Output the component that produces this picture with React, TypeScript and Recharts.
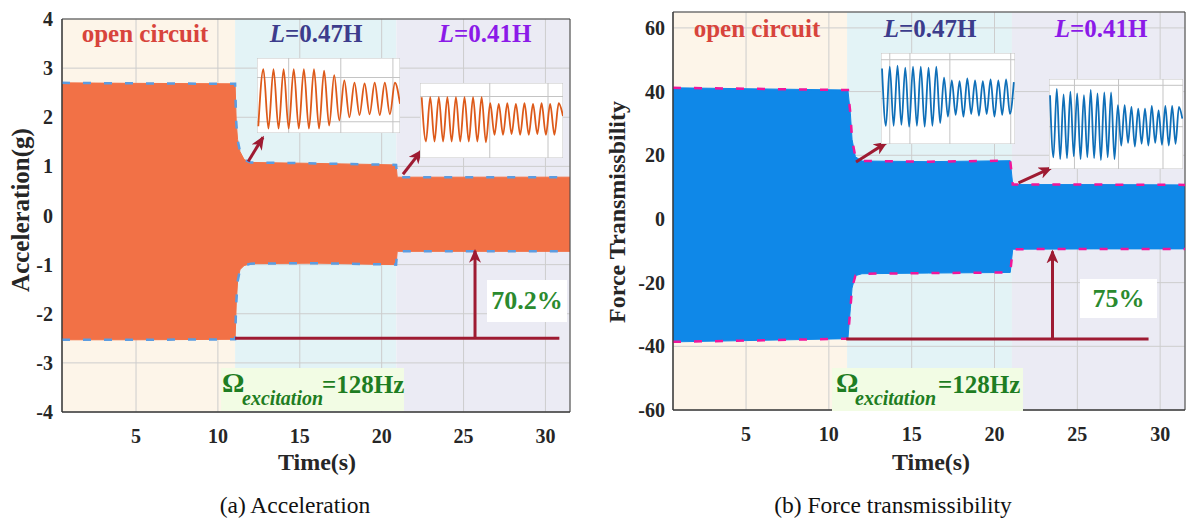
import React from 'react';
import {
  ComposedChart,
  LineChart,
  Area,
  Line,
  XAxis,
  YAxis,
  CartesianGrid,
  ReferenceArea,
  ReferenceLine,
} from 'recharts';

const SERIF = '"Liberation Serif", "Times New Roman", serif';
const ARROW = '#9E1B32';
const GREEN = '#2B8A2E';

const timeTicks = [5, 10, 15, 20, 25, 30];
const regionFills = ['#FDF5E9', '#E3F3F6', '#EBEBF4'];

// (a) acceleration envelope
const accTime = [0.48, 5, 11.05, 11.12, 11.2, 11.35, 11.6, 12, 16, 20.88, 20.95, 26, 31.5];
const accTop = [2.7, 2.69, 2.68, 1.9, 1.55, 1.3, 1.14, 1.08, 1.06, 1.03, 0.78, 0.78, 0.78];
const accBottom = [-2.53, -2.53, -2.52, -1.8, -1.35, -1.1, -1.02, -0.98, -0.97, -1.0, -0.73, -0.73, -0.73];
const accTicks = [-4, -3, -2, -1, 0, 1, 2, 3, 4];
const accBounds = [0.48, 11.05, 20.9, 31.5];
const accArrows = [
  [11.85, 1.1, 12.75, 1.59],
  [21.3, 0.84, 22.4, 1.31],
  [25.7, -2.5, 25.7, -0.72],
];
const accBase = [11.05, 30.85, -2.5];

// (b) force transmissibility envelope
const forceTime = [0.59, 5, 11.15, 11.3, 11.4, 11.6, 12, 16, 20.95, 21.1, 26, 31.5];
const forceTop = [41.2, 40.9, 40.5, 33, 25, 19.5, 18.2, 18.0, 18.3, 10.8, 10.8, 10.7];
const forceBottom = [-38.6, -38.2, -37.6, -28, -21.7, -17.8, -17.2, -17.0, -16.8, -9.5, -9.4, -9.4];
const forceTicks = [-60, -40, -20, 0, 20, 40, 60];
const forceBounds = [0.59, 11.1, 21.05, 31.5];
const forceArrows = [
  [11.64, 17.9, 13.45, 23.9],
  [21.45, 11.3, 23.4, 16.0],
  [23.5, -37.7, 23.5, -10.2],
];
const forceBase = [11.05, 29.3, -37.7];

// zoomed windows: alternating peaks and troughs
const accZoom1 = [0.9, 8.5, 0.6, 8.5, 0.6, 8.5, 0.6, 8.5, 0.6, 8.5, 0.6, 8.5, 0.6, 8.3, 1.0, 7.7, 1.7, 7.0, 2.1, 6.7, 2.4, 6.6, 2.5, 6.7, 2.4, 6.7, 2.5, 6.7, 3.9];
const accZoom2 = [8.1, 2.2, 8.1, 2.2, 8.1, 2.2, 8.1, 2.2, 8.1, 2.2, 8.1, 2.2, 8.1, 2.2, 8.1, 2.1, 7.3, 3.1, 7.2, 3.1, 7.3, 3.2, 7.2, 3.1, 7.3, 3.1, 7.2, 3.2, 7.3, 3.1, 7.2, 3.1, 7.3, 5.6];
const forceZoom1 = [8.3, 2.0, 8.5, 2.0, 8.6, 2.1, 8.4, 1.9, 8.5, 2.0, 8.5, 1.9, 8.4, 2.0, 8.5, 2.3, 7.3, 3.0, 7.0, 3.2, 6.9, 3.0, 7.2, 3.3, 7.0, 3.1, 6.9, 3.3, 7.1, 3.0, 7.0, 3.2, 7.1, 3.3, 6.8];
const forceZoom2 = [8.2, 1.3, 8.9, 1.1, 8.3, 1.2, 8.6, 1.4, 8.4, 1.1, 8.2, 1.3, 8.8, 1.2, 8.4, 1.0, 8.5, 1.3, 8.5, 1.1, 7.1, 2.6, 7.1, 2.9, 6.9, 2.5, 6.7, 2.8, 6.7, 2.6, 7.0, 2.9, 6.5, 2.7, 7.0, 2.6, 7.0, 2.8, 6.9, 5.6];

interface PanelProps {
  id: string;
  width: number;
  margin: { top: number; right: number; bottom: number; left: number };
  yWidth: number;
  tickGap: number;
  xDomain: [number, number];
  yDomain: [number, number];
  yTicks: number[];
  time: number[];
  top: number[];
  bottom: number[];
  bounds: number[];
  fill: string;
  dash: string;
  arrows: number[][];
  base: number[];
}

const Panel: React.FC<PanelProps> = (p) => {
  const data = p.time.map((t, i) => ({
    t,
    top: p.top[i],
    bottom: p.bottom[i],
    band: [p.bottom[i], p.top[i]],
  }));
  const tick = { fontFamily: SERIF, fontSize: 20, fontWeight: 700, fill: '#262626' };
  return (
    <ComposedChart width={p.width} height={460} data={data} margin={p.margin}>
      <defs>
        <marker
          id={p.id}
          viewBox="0 0 14 12"
          markerWidth={14}
          markerHeight={12}
          refX={12}
          refY={6}
          orient="auto"
          markerUnits="userSpaceOnUse"
        >
          <path d="M0,0 L14,6 L0,12 L4,6 Z" fill={ARROW} />
        </marker>
      </defs>
      {regionFills.map((c, i) => (
        <ReferenceArea
          key={i}
          x1={p.bounds[i]}
          x2={p.bounds[i + 1]}
          y1={p.yDomain[0]}
          y2={p.yDomain[1]}
          fill={c}
          fillOpacity={1}
          stroke="none"
          zIndex={-200}
        />
      ))}
      <CartesianGrid stroke="#cdcdcd" />
      <XAxis
        type="number"
        dataKey="t"
        domain={p.xDomain}
        ticks={timeTicks}
        allowDataOverflow
        tick={tick}
        tickLine={false}
        tickSize={0}
        tickMargin={17}
        axisLine={{ stroke: '#333' }}
        height={30}
      />
      <YAxis
        type="number"
        domain={p.yDomain}
        ticks={p.yTicks}
        allowDataOverflow
        width={p.yWidth}
        tick={tick}
        tickLine={false}
        tickSize={0}
        tickMargin={p.tickGap}
        axisLine={{ stroke: '#333' }}
      />
      <Area
        dataKey="band"
        type="linear"
        fill={p.fill}
        fillOpacity={1}
        stroke={p.fill}
        isAnimationActive={false}
      />
      <Line dataKey="top" type="linear" stroke={p.dash} strokeWidth={2.5} strokeDasharray="8 13" dot={false} isAnimationActive={false} />
      <Line dataKey="bottom" type="linear" stroke={p.dash} strokeWidth={2.5} strokeDasharray="8 13" dot={false} isAnimationActive={false} />
      <ReferenceLine
        segment={[{ x: p.base[0], y: p.base[2] }, { x: p.base[1], y: p.base[2] }]}
        stroke={ARROW}
        strokeWidth={3}
      />
      {p.arrows.map((a, i) => (
        <ReferenceLine
          key={i}
          segment={[{ x: a[0], y: a[1] }, { x: a[2], y: a[3] }]}
          stroke={ARROW}
          strokeWidth={3}
          markerEnd={`url(#${p.id})`}
        />
      ))}
      <ReferenceArea
        x1={p.xDomain[0]}
        x2={p.xDomain[1]}
        y1={p.yDomain[0]}
        y2={p.yDomain[1]}
        fill="none"
        stroke="#444"
      />
    </ComposedChart>
  );
};

interface InsetProps {
  values: number[];
  color: string;
  left: number;
  top: number;
  width: number;
  height: number;
  xDomain: [number, number];
  xTicks: number[];
  yTicks: number[];
}

const Inset: React.FC<InsetProps> = ({ values, color, left, top, width, height, xDomain, xTicks, yTicks }) => {
  const data = values.map((v, i) => ({ i, v }));
  return (
    <div style={{ position: 'absolute', left, top, width, height, background: '#fff' }}>
      <LineChart width={width} height={height} data={data} margin={{ top: 0, right: 0, bottom: 0, left: 0 }}>
        <CartesianGrid stroke="#c4c4c4" />
        <XAxis type="number" dataKey="i" domain={xDomain} ticks={xTicks} allowDataOverflow hide />
        <YAxis type="number" domain={[0, 10]} ticks={yTicks} allowDataOverflow hide />
        <Line dataKey="v" type="monotone" stroke={color} strokeWidth={1.8} dot={false} isAnimationActive={false} />
      </LineChart>
    </div>
  );
};

const Txt: React.FC<{ x: number; y: number; size: number; color?: string; weight?: number; children: React.ReactNode }> = ({
  x,
  y,
  size,
  color = '#262626',
  weight = 700,
  children,
}) => (
  <div
    style={{
      position: 'absolute',
      left: x,
      top: y - 0.8375 * size,
      transform: 'translateX(-50%)',
      fontSize: size,
      lineHeight: 1,
      fontWeight: weight,
      color,
      whiteSpace: 'nowrap',
    }}
  >
    {children}
  </div>
);

const VTxt: React.FC<{ x: number; y: number; size: number; children: React.ReactNode }> = ({ x, y, size, children }) => (
  <div
    style={{
      position: 'absolute',
      left: x,
      top: y,
      transform: 'translate(-50%, -50%) rotate(-90deg)',
      fontSize: size,
      lineHeight: 1,
      fontWeight: 700,
      color: '#262626',
      whiteSpace: 'nowrap',
    }}
  >
    {children}
  </div>
);

const Omega: React.FC<{ left: number; width: number; off: number[] }> = ({ left, width, off }) => (
  <div style={{ position: 'absolute', left, top: 368, width, height: 43, background: '#F2FCE4', color: '#1E7D22', fontWeight: 700, lineHeight: 1 }}>
    <span style={{ position: 'absolute', left: off[0], top: 1, fontSize: 28 }}>Ω</span>
    <span style={{ position: 'absolute', left: off[1], top: 20, fontSize: 20, fontStyle: 'italic' }}>excitation</span>
    <span style={{ position: 'absolute', left: off[2], top: 4, fontSize: 25 }}>=128Hz</span>
  </div>
);

const Pct: React.FC<{ left: number; top: number; width: number; height: number; children: React.ReactNode }> = ({ left, top, width, height, children }) => (
  <div
    style={{
      position: 'absolute',
      left,
      top,
      width,
      height,
      background: '#fff',
      display: 'flex',
      alignItems: 'center',
      justifyContent: 'center',
      fontSize: 26,
      fontWeight: 700,
      lineHeight: 1,
      color: GREEN,
    }}
  >
    {children}
  </div>
);

const App: React.FC = () => (
  <div style={{ position: 'absolute', left: 0, top: 0, width: 1189, height: 520, background: '#fff', fontFamily: SERIF, overflow: 'hidden' }}>
    <div style={{ position: 'absolute', left: 0, top: 0 }}>
      <Panel
        id="arrA"
        width={595}
        margin={{ top: 19, right: 25, bottom: 18, left: 0 }}
        yWidth={62}
        tickGap={9}
        xDomain={[0.48, 31.5]}
        yDomain={[-4, 4]}
        yTicks={accTicks}
        time={accTime}
        top={accTop}
        bottom={accBottom}
        bounds={accBounds}
        fill="#F27146"
        dash="#5C9CE0"
        arrows={accArrows}
        base={accBase}
      />
    </div>
    <div style={{ position: 'absolute', left: 595, top: 0 }}>
      <Panel
        id="arrB"
        width={594}
        margin={{ top: 12, right: 4, bottom: 20, left: 0 }}
        yWidth={78}
        tickGap={8}
        xDomain={[0.59, 31.5]}
        yDomain={[-60, 65]}
        yTicks={forceTicks}
        time={forceTime}
        top={forceTop}
        bottom={forceBottom}
        bounds={forceBounds}
        fill="#0F88E8"
        dash="#F0169A"
        arrows={forceArrows}
        base={forceBase}
      />
    </div>

    <Inset values={accZoom1} color="#DD5A1A" left={257} top={58} width={143} height={75} xDomain={[-0.26, 28]} xTicks={[0.92, 6, 11.25, 16.3, 21.4, 26.6]} yTicks={[1.5, 4.5, 7.4]} />
    <Inset values={accZoom2} color="#DD5A1A" left={420} top={83} width={143} height={75} xDomain={[-0.39, 33]} xTicks={[15.9, 29.5]} yTicks={[5.3, 8.2]} />
    <Inset values={forceZoom1} color="#0F6FB8" left={881} top={53} width={134} height={91} xDomain={[-0.26, 34.3]} xTicks={[2, 7.2, 12.3, 17.5, 22.7, 27.8, 33.2]} yTicks={[0.8, 5, 9.26]} />
    <Inset values={forceZoom2} color="#0F6FB8" left={1049} top={79} width={134} height={90} xDomain={[-0.3, 39.2]} xTicks={[7.2, 20.2, 33.3]} yTicks={[0.26, 4.7, 9.3]} />

    <Txt x={145} y={42} size={25} color="#D8443C">open circuit</Txt>
    <Txt x={316} y={42} size={25} color="#3C3C8C"><i>L</i>=0.47H</Txt>
    <Txt x={485} y={42} size={25} color="#8B1AE8"><i>L</i>=0.41H</Txt>
    <Txt x={757} y={37} size={25} color="#D8443C">open circuit</Txt>
    <Txt x={930} y={37} size={25} color="#3C3C8C"><i>L</i>=0.47H</Txt>
    <Txt x={1101} y={37} size={25} color="#8B1AE8"><i>L</i>=0.41H</Txt>

    <Omega left={221} width={183} off={[1, 21, 101]} />
    <Omega left={832} width={191} off={[4, 23, 106]} />
    <Pct left={487} top={280} width={80} height={42}>70.2%</Pct>
    <Pct left={1080} top={279} width={77} height={39}>75%</Pct>

    <VTxt x={20} y={210} size={25}>Acceleration(g)</VTxt>
    <VTxt x={617} y={212} size={24}>Force Transmissbility</VTxt>
    <Txt x={317} y={470} size={24}>Time(s)</Txt>
    <Txt x={931} y={470} size={24}>Time(s)</Txt>
    <Txt x={295} y={514} size={23.5} weight={400} color="#111">(a) Acceleration</Txt>
    <Txt x={893} y={514} size={23.5} weight={400} color="#111">(b) Force transmissibility</Txt>
  </div>
);

export default App;
